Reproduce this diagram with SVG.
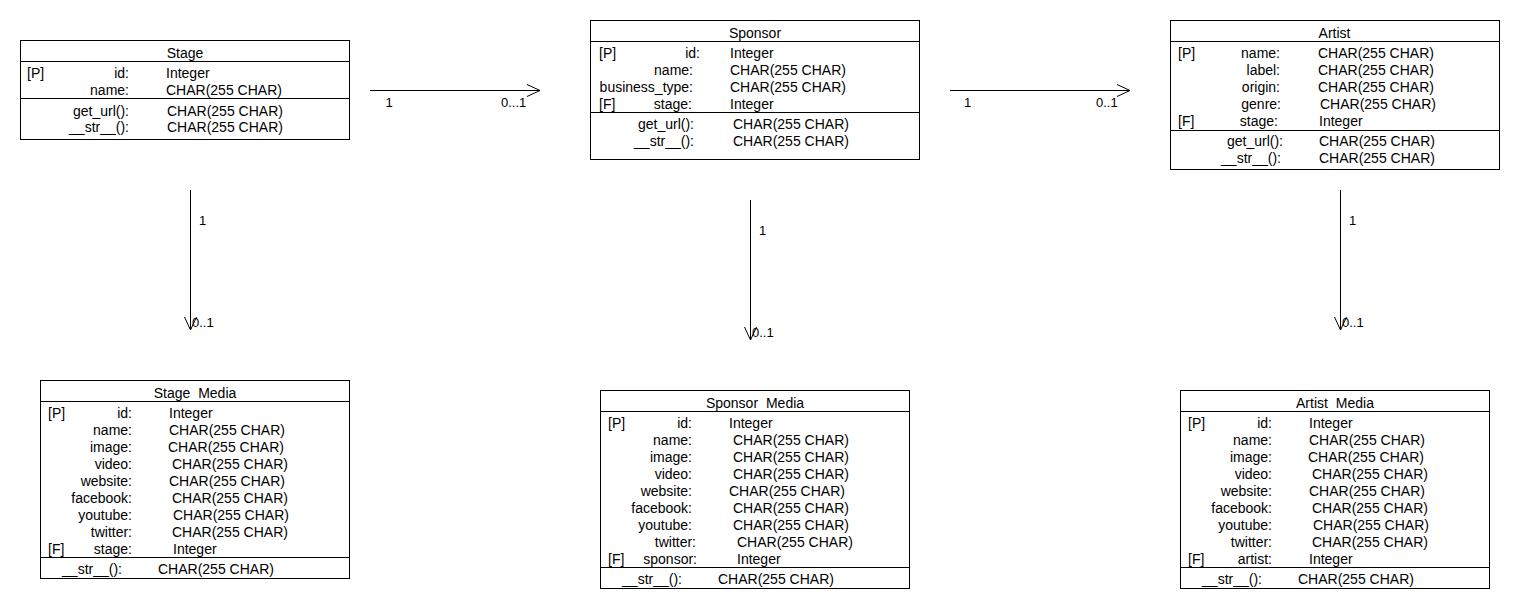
<svg xmlns="http://www.w3.org/2000/svg" width="1520" height="610" viewBox="0 0 1520 610">
<style>
.box{fill:#fff;stroke:#000;stroke-width:1}
.sep{stroke:#000;stroke-width:1}
text{font-family:"Liberation Sans",Arial,sans-serif;font-size:14px;fill:#000}
.t{text-anchor:middle;word-spacing:4px}
.r{text-anchor:end}
.conn{stroke:#000;stroke-width:1;fill:none;marker-end:url(#arr)}
.lbl{font-size:13px}
</style>
<defs>
<marker id="arr" markerWidth="14" markerHeight="14" refX="13" refY="6" orient="auto" markerUnits="userSpaceOnUse" overflow="visible">
<path d="M0,0 L13,6 L0,12" fill="none" stroke="#000" stroke-width="1"/>
</marker>
</defs>
<rect width="1520" height="610" fill="#fff"/>

<g id="connectors">
<line class="conn" x1="370" y1="90.5" x2="540" y2="90.5"/>
<text class="lbl" x="385.5" y="106.5">1</text>
<text class="lbl" x="501" y="106.5">0...1</text>
<line class="conn" x1="950" y1="90.5" x2="1130" y2="90.5"/>
<text class="lbl" x="964" y="106.5">1</text>
<text class="lbl" x="1096" y="106.5">0..1</text>
<line class="conn" x1="190.5" y1="190" x2="190.5" y2="330"/>
<text class="lbl" x="199" y="225">1</text>
<text class="lbl" x="192" y="327">0..1</text>
<line class="conn" x1="750.5" y1="200" x2="750.5" y2="340"/>
<text class="lbl" x="759" y="235">1</text>
<text class="lbl" x="752" y="337">0..1</text>
<line class="conn" x1="1340.5" y1="190" x2="1340.5" y2="330"/>
<text class="lbl" x="1349" y="225">1</text>
<text class="lbl" x="1342" y="327">0..1</text>
</g>

<g id="stage">
<rect class="box" x="20.5" y="40.5" width="329" height="99"/>
<line class="sep" x1="20.5" y1="61.5" x2="349.5" y2="61.5"/>
<line class="sep" x1="20.5" y1="98.5" x2="349.5" y2="98.5"/>
<text class="t" x="185" y="57.5">Stage</text>
<text x="27" y="78">[P]</text><text class="r" x="129" y="78">id:</text><text x="166" y="78">Integer</text>
<text class="r" x="129" y="95">name:</text><text x="166" y="95">CHAR(255 CHAR)</text>
<text class="r" x="129" y="115.5">get_url():</text><text x="167" y="115.5">CHAR(255 CHAR)</text>
<text class="r" x="129" y="132">__str__():</text><text x="167" y="132">CHAR(255 CHAR)</text>
</g>

<g id="sponsor">
<rect class="box" x="590.5" y="20.5" width="329" height="139"/>
<line class="sep" x1="590.5" y1="41.5" x2="919.5" y2="41.5"/>
<line class="sep" x1="590.5" y1="112.5" x2="919.5" y2="112.5"/>
<text class="t" x="755" y="37.5">Sponsor</text>
<text x="599" y="57.5">[P]</text><text class="r" x="700" y="57.5">id:</text><text x="730" y="57.5">Integer</text>
<text class="r" x="693" y="74.5">name:</text><text x="730" y="74.5">CHAR(255 CHAR)</text>
<text class="r" x="693" y="91.5">business_type:</text><text x="730" y="91.5">CHAR(255 CHAR)</text>
<text x="599" y="108.5">[F]</text><text class="r" x="692" y="108.5">stage:</text><text x="730" y="108.5">Integer</text>
<text class="r" x="694" y="129">get_url():</text><text x="733" y="129">CHAR(255 CHAR)</text>
<text class="r" x="694" y="146">__str__():</text><text x="733" y="146">CHAR(255 CHAR)</text>
</g>

<g id="artist">
<rect class="box" x="1170.5" y="20.5" width="329" height="149"/>
<line class="sep" x1="1170.5" y1="41.5" x2="1499.5" y2="41.5"/>
<line class="sep" x1="1170.5" y1="130.5" x2="1499.5" y2="130.5"/>
<text class="t" x="1334.5" y="37.5">Artist</text>
<text x="1178" y="57.5">[P]</text><text class="r" x="1280" y="57.5">name:</text><text x="1318" y="57.5">CHAR(255 CHAR)</text>
<text class="r" x="1280" y="74.5">label:</text><text x="1318" y="74.5">CHAR(255 CHAR)</text>
<text class="r" x="1280" y="91.5">origin:</text><text x="1318" y="91.5">CHAR(255 CHAR)</text>
<text class="r" x="1281" y="108.5">genre:</text><text x="1320" y="108.5">CHAR(255 CHAR)</text>
<text x="1178" y="125.5">[F]</text><text class="r" x="1278" y="125.5">stage:</text><text x="1319" y="125.5">Integer</text>
<text class="r" x="1283" y="146">get_url():</text><text x="1319" y="146">CHAR(255 CHAR)</text>
<text class="r" x="1281" y="162.5">__str__():</text><text x="1319" y="162.5">CHAR(255 CHAR)</text>
</g>

<g id="stage_media">
<rect class="box" x="40.5" y="380.5" width="309" height="198"/>
<line class="sep" x1="40.5" y1="401.5" x2="349.5" y2="401.5"/>
<line class="sep" x1="40.5" y1="557.5" x2="349.5" y2="557.5"/>
<text class="t" x="195" y="398">Stage Media</text>
<text x="48" y="418">[P]</text><text class="r" x="132" y="418">id:</text><text x="169" y="418">Integer</text>
<text class="r" x="132" y="435">name:</text><text x="169" y="435">CHAR(255 CHAR)</text>
<text class="r" x="132" y="452">image:</text><text x="168" y="452">CHAR(255 CHAR)</text>
<text class="r" x="132" y="469">video:</text><text x="172" y="469">CHAR(255 CHAR)</text>
<text class="r" x="132" y="486">website:</text><text x="169" y="486">CHAR(255 CHAR)</text>
<text class="r" x="132" y="503">facebook:</text><text x="172" y="503">CHAR(255 CHAR)</text>
<text class="r" x="132" y="520">youtube:</text><text x="173" y="520">CHAR(255 CHAR)</text>
<text class="r" x="132" y="537">twitter:</text><text x="172" y="537">CHAR(255 CHAR)</text>
<text x="48" y="554">[F]</text><text class="r" x="132" y="554">stage:</text><text x="173" y="554">Integer</text>
<text class="r" x="122" y="573.5">__str__():</text><text x="158" y="573.5">CHAR(255 CHAR)</text>
</g>

<g id="sponsor_media">
<rect class="box" x="600.5" y="390.5" width="309" height="198"/>
<line class="sep" x1="600.5" y1="411.5" x2="909.5" y2="411.5"/>
<line class="sep" x1="600.5" y1="567.5" x2="909.5" y2="567.5"/>
<text class="t" x="755" y="408">Sponsor Media</text>
<text x="608" y="428">[P]</text><text class="r" x="692" y="428">id:</text><text x="729" y="428">Integer</text>
<text class="r" x="692" y="445">name:</text><text x="733" y="445">CHAR(255 CHAR)</text>
<text class="r" x="692" y="462">image:</text><text x="733" y="462">CHAR(255 CHAR)</text>
<text class="r" x="692" y="479">video:</text><text x="733" y="479">CHAR(255 CHAR)</text>
<text class="r" x="692" y="496">website:</text><text x="729" y="496">CHAR(255 CHAR)</text>
<text class="r" x="692" y="513">facebook:</text><text x="733" y="513">CHAR(255 CHAR)</text>
<text class="r" x="692" y="530">youtube:</text><text x="733" y="530">CHAR(255 CHAR)</text>
<text class="r" x="696" y="547">twitter:</text><text x="737" y="547">CHAR(255 CHAR)</text>
<text x="608" y="564">[F]</text><text class="r" x="697" y="564">sponsor:</text><text x="737" y="564">Integer</text>
<text class="r" x="682" y="583.5">__str__():</text><text x="718" y="583.5">CHAR(255 CHAR)</text>
</g>

<g id="artist_media">
<rect class="box" x="1180.5" y="390.5" width="309" height="198"/>
<line class="sep" x1="1180.5" y1="411.5" x2="1489.5" y2="411.5"/>
<line class="sep" x1="1180.5" y1="567.5" x2="1489.5" y2="567.5"/>
<text class="t" x="1335" y="408">Artist Media</text>
<text x="1188" y="428">[P]</text><text class="r" x="1272" y="428">id:</text><text x="1309" y="428">Integer</text>
<text class="r" x="1272" y="445">name:</text><text x="1309" y="445">CHAR(255 CHAR)</text>
<text class="r" x="1272" y="462">image:</text><text x="1308" y="462">CHAR(255 CHAR)</text>
<text class="r" x="1272" y="479">video:</text><text x="1312" y="479">CHAR(255 CHAR)</text>
<text class="r" x="1272" y="496">website:</text><text x="1309" y="496">CHAR(255 CHAR)</text>
<text class="r" x="1272" y="513">facebook:</text><text x="1312" y="513">CHAR(255 CHAR)</text>
<text class="r" x="1272" y="530">youtube:</text><text x="1313" y="530">CHAR(255 CHAR)</text>
<text class="r" x="1272" y="547">twitter:</text><text x="1312" y="547">CHAR(255 CHAR)</text>
<text x="1188" y="564">[F]</text><text class="r" x="1272" y="564">artist:</text><text x="1309" y="564">Integer</text>
<text class="r" x="1262" y="583.5">__str__():</text><text x="1298" y="583.5">CHAR(255 CHAR)</text>
</g>
</svg>
